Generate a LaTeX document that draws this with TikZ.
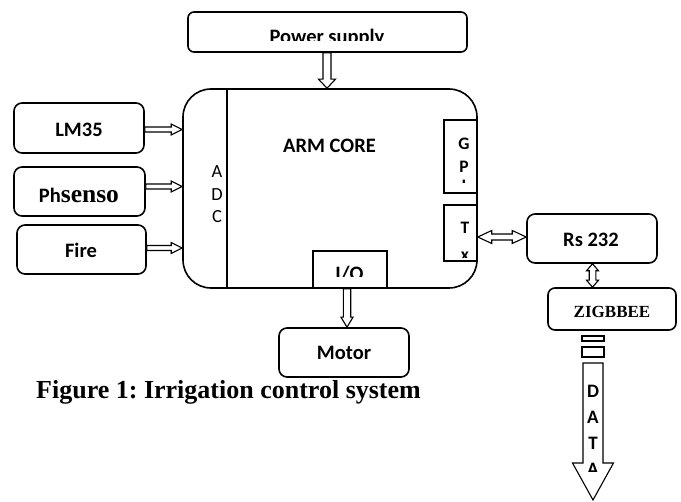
\documentclass[tikz,border=0pt]{standalone}
\usepackage{fontspec}
\setmainfont{Carlito}[BoldFont={Carlito Bold}]
\newfontfamily\tnr{Liberation Serif}
\usetikzlibrary{calc}
\frenchspacing
\tikzset{
  blk/.style={draw, line width=1.6pt, rounded corners=8pt, inner sep=0pt, fill=white},
  sq/.style={draw, line width=1.5pt, inner sep=0pt, fill=white},
  conn/.style={draw, line width=1.1pt, fill=white, line join=miter},
  big/.style={anchor=base, inner sep=0pt, font=\bfseries\fontsize{20.5}{24}\selectfont},
  sub/.style={anchor=base, inner sep=0pt, font=\bfseries\fontsize{17.5}{22}\selectfont},
  dat/.style={anchor=base, inner sep=0pt, font=\bfseries\fontsize{19}{22}\selectfont},
  adcl/.style={anchor=base, inner sep=0pt, font=\fontsize{18.5}{22}\selectfont},
}
\newcommand{\blockarrow}[5]{%
  \coordinate (bh) at ($(#2)!#5!(#1)$);
  \draw[conn] ($(#1)!#3!90:(#2)$) -- ($(bh)!#3!90:(#2)$) -- ($(bh)!#4!90:(#2)$) -- (#2)
     -- ($(bh)!#4!-90:(#2)$) -- ($(bh)!#3!-90:(#2)$) -- ($(#1)!#3!-90:(#2)$) -- cycle;
}
\newcommand{\dblarrow}[5]{%
  \coordinate (ha) at ($(#1)!#5!(#2)$);
  \coordinate (hb) at ($(#2)!#5!(#1)$);
  \draw[conn] (#1) -- ($(ha)!#4!90:(#2)$) -- ($(ha)!#3!90:(#2)$) -- ($(hb)!#3!90:(#2)$)
     -- ($(hb)!#4!90:(#2)$) -- (#2) -- ($(hb)!#4!-90:(#2)$) -- ($(hb)!#3!-90:(#2)$)
     -- ($(ha)!#3!-90:(#2)$) -- ($(ha)!#4!-90:(#2)$) -- cycle;
}
\begin{document}
\begin{tikzpicture}[x=1pt,y=-1pt]
\useasboundingbox (0,0) rectangle (681,502);

% Power supply
\node[blk, rounded corners=6pt, minimum width=279pt, minimum height=40pt] (ps) at (327.5,32) {};
\begin{scope}
  \clip (188,12) rectangle (467,40.7);
  \node[big] (pst) at (327,44) {Power supply};
\end{scope}

% ARM core
\node[draw, line width=1.6pt, rounded corners=28pt, minimum width=294pt, minimum height=199pt, inner sep=0pt] (arm) at (330,188.5) {};
\draw[line width=1.5pt] ([xshift=45pt]arm.north west) -- ([xshift=45pt]arm.south west);
\node[big] (armt) at (329.5,153) {ARM CORE};
\node[adcl] (adca) at (217,178) {A};
\node[adcl] (adcd) at (217,200.5) {D};
\node[adcl] (adcc) at (217,223) {C};

% GPIO
\node[sq, minimum width=33pt, minimum height=73pt] (gp) at (460.5,156.5) {};
\begin{scope}
  \clip (444,120) rectangle (477,182.5);
  \node[sub] (gpg) at (464,149.3) {G};
  \node[sub] (gpp) at (464,172.7) {P};
  \node[sub] (gpi) at (464,192) {I};
\end{scope}

% Tx
\node[sq, minimum width=33pt, minimum height=56pt] (tx) at (460.5,233) {};
\begin{scope}
  \clip (444,205) rectangle (477,258);
  \node[sub] (txt) at (465,234) {T};
  \node[sub] (txx) at (465,260.5) {x};
\end{scope}

% I/O
\node[sq, minimum width=74pt, minimum height=37pt] (io) at (350,269.5) {};
\begin{scope}
  \clip (313,251) rectangle (387,277);
  \node[big] (iot) at (349.5,281) {I/O};
\end{scope}

% sensors
\node[blk, minimum width=130pt, minimum height=50pt] (lm) at (79,128) {};
\node[big] (lmt) at (79,136.7) {LM35};
\node[blk, minimum width=131pt, minimum height=49pt] (ph) at (79.5,191.5) {};
\node[big] (pht) at (79,203) {Ph{\tnr\fontsize{25.5}{28}\selectfont senso}};
\node[blk, minimum width=129pt, minimum height=49pt] (fire) at (81.5,249.5) {};
\node[big] (firet) at (81,258) {Fire};

% Motor
\node[blk, minimum width=130pt, minimum height=49pt] (motor) at (344,352.5) {};
\node[big] (motort) at (344,360) {Motor};

% Rs 232
\node[blk, minimum width=130pt, minimum height=49pt] (rs) at (592,238.5) {};
\node[big] (rst) at (591,246.5) {Rs 232};

% ZIGBBEE
\node[blk, rounded corners=7pt, minimum width=128pt, minimum height=42pt] (zig) at (612,309) {};
\node[anchor=base, inner sep=0pt, font=\tnr\bfseries\fontsize{17}{20}\selectfont] (zigt) at (612,318) {ZIGBBEE};

% arrows
\coordinate (pwa) at ([xshift=-0.5pt]ps.south);
\coordinate (pwb) at (pwa |- arm.north);
\blockarrow{pwa}{pwb}{4pt}{8.5pt}{9pt}

\coordinate (lma) at ([yshift=-1.5pt]lm.east);
\coordinate (lmb) at (arm.west |- lma);
\blockarrow{lma}{lmb}{2.5pt}{5.5pt}{11pt}

\coordinate (pha) at ([yshift=5pt]ph.east);
\coordinate (phb) at (arm.west |- pha);
\blockarrow{pha}{phb}{2.5pt}{5.5pt}{11pt}

\coordinate (fia) at ([yshift=1.5pt]fire.east);
\coordinate (fib) at (arm.west |- fia);
\blockarrow{fia}{fib}{2.5pt}{5.5pt}{11pt}

\coordinate (ioa) at ([xshift=-3pt]io.south);
\coordinate (iob) at (ioa |- motor.north);
\blockarrow{ioa}{iob}{3.7pt}{6pt}{10pt}

\coordinate (txa) at ([yshift=-4pt]tx.east);
\coordinate (txb) at (rs.west |- txa);
\dblarrow{txa}{txb}{3pt}{6.5pt}{14pt}

\coordinate (rsa) at ([xshift=0.5pt]rs.south);
\coordinate (rsb) at (rsa |- zig.north);
\dblarrow{rsa}{rsb}{3.3pt}{6pt}{7pt}

% DATA arrow
\node[draw, line width=1.1pt, inner sep=0pt, minimum width=22pt, minimum height=5pt] (s1) at (593,338.5) {};
\node[draw, line width=1.1pt, inner sep=0pt, minimum width=22pt, minimum height=10pt] (s2) at (593,352) {};
\coordinate (dtop) at (593,363);
\coordinate (dtip) at (593,500);
\blockarrow{dtop}{dtip}{10pt}{20.5pt}{37pt}
\begin{scope}
  \clip (583,363) rectangle (603,472);
  \node[dat] (d1) at (593,398) {D};
  \node[dat] (d2) at (593,424) {A};
  \node[dat] (d3) at (593,450) {T};
  \node[dat] (d4) at (593,476) {A};
\end{scope}

% caption
\node[anchor=base west, inner sep=0pt, font=\tnr\bfseries\fontsize{26}{30}\selectfont] (cap) at (36,399) {Figure 1: Irrigation control system};
\end{tikzpicture}
\end{document}
